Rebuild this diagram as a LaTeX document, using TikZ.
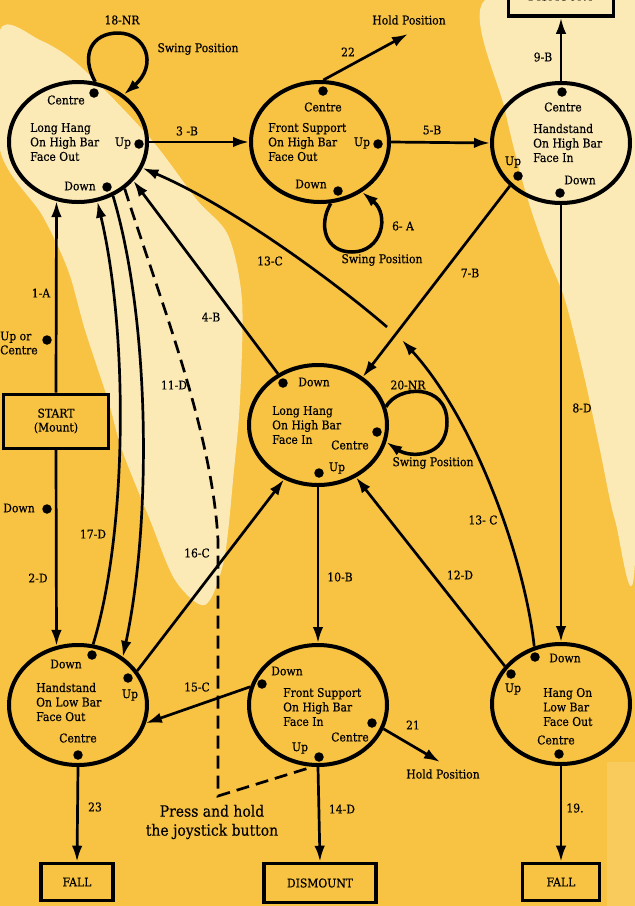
\documentclass[tikz,border=0pt]{standalone}
\usepackage{fontspec}
\setmainfont{DejaVu Serif}[FakeStretch=0.9,FakeBold=0.4]
\usetikzlibrary{shapes.geometric,arrows.meta}
\definecolor{bgy}{HTML}{F8C242}
\definecolor{cream}{HTML}{FBE9B6}
\definecolor{lighty}{HTML}{F9CB5C}
\begin{document}
\begin{tikzpicture}[x=1pt,y=-1pt,
  state/.style={ellipse,draw,line width=4pt,minimum width=138pt,minimum height=120pt,inner sep=0pt},
  body/.style={align=left,font=\fontsize{12}{14.5}\selectfont,anchor=west,inner sep=0pt},
  lab/.style={font=\fontsize{12}{14}\selectfont,inner sep=0pt},
  dot/.style={circle,fill,inner sep=0pt,minimum size=9.5pt},
  arr/.style={line width=2.7pt,-{Latex[length=16pt,width=10.5pt]}},
  loopst/.style={line width=3.5pt,-{Latex[length=16pt,width=10.5pt]}},
  ln/.style={line width=2.7pt},
  term/.style={draw,line width=3.6pt,font=\fontsize{12}{14}\selectfont,inner sep=0pt,align=center},
]
\useasboundingbox (0,0) rectangle (635,906);
\clip (0,0) rectangle (635,906);
\fill[bgy] (0,0) rectangle (635,906);
% cream texture patches
\fill[cream] plot[smooth cycle] coordinates {(0,30) (40,40) (80,66) (150,138) (197,200) (228,235) (242,300) (240,400) (234,470) (224,560) (205,605) (175,580) (150,520) (122,450) (108,400) (85,330) (68,270) (42,215) (0,150)};
\fill[cream] plot[smooth cycle] coordinates {(485,0) (635,0) (635,560) (615,520) (600,450) (585,380) (565,300) (545,250) (525,190) (505,110)};
\fill[lighty] (607,762) rectangle (635,906);

% states
\node[state] (lho) at (78,142) {};
\node[state] (fso) at (320,142) {};
\node[state] (hhi) at (561,143) {};
\node[state] (lhi) at (318,425) {};
\node[state] (hlo) at (78,705) {};
\node[state] (fsi) at (318,705) {};
\node[state] (hlt) at (561,704) {};

\node[body] (lhoT) at (30,142) {Long Hang\\On High Bar\\Face Out};
\node[body] (fsoT) at (268,142) {Front Support\\On High Bar\\Face Out};
\node[body] (hhiT) at (533,143) {Handstand\\On High Bar\\Face In};
\node[body] (lhiT) at (272,425) {Long Hang\\On High Bar\\Face In};
\node[body] (hloT) at (36,702) {Handstand\\On Low Bar\\Face Out};
\node[body] (fsiT) at (283,707) {Front Support\\On High Bar\\Face In};
\node[body] (hltT) at (543,707) {Hang On\\Low Bar\\Face Out};

% dots and their labels
\node[dot] (d1) at (94,93) {};   \node[lab] (l1) at (66,100) {Centre};
\node[dot] (d2) at (139,144) {}; \node[lab] (l2) at (123,143) {Up};
\node[dot] (d3) at (107,187) {}; \node[lab] (l3) at (80,186) {Down};
\node[dot] (d4) at (323,91) {};  \node[lab] (l4) at (323,107) {Centre};
\node[dot] (d5) at (378,144) {}; \node[lab] (l5) at (362,143) {Up};
\node[dot] (d6) at (338,191) {}; \node[lab] (l6) at (311,184) {Down};
\node[dot] (d7) at (562,92) {};  \node[lab] (l7) at (563,107) {Centre};
\node[dot] (d8) at (518,176) {}; \node[lab] (l8) at (513,162) {Up};
\node[dot] (d9) at (560,193) {}; \node[lab] (l9) at (580,180) {Down};
\node[dot] (d10) at (283,383) {}; \node[lab] (l10) at (314,382) {Down};
\node[dot] (d11) at (377,432) {}; \node[lab] (l11) at (350,445) {Centre};
\node[dot] (d12) at (319,473) {}; \node[lab] (l12) at (337,468) {Up};
\node[dot] (d13) at (92,655) {};  \node[lab] (l13) at (66,664) {Down};
\node[dot] (d14) at (128,678) {}; \node[lab] (l14) at (130,695) {Up};
\node[dot] (d15) at (78,755) {};  \node[lab] (l15) at (78,738) {Centre};
\node[dot] (d16) at (262,684) {}; \node[lab] (l16) at (287,671) {Down};
\node[dot] (d17) at (372,723) {}; \node[lab] (l17) at (350,737) {Centre};
\node[dot] (d18) at (319,757) {}; \node[lab] (l18) at (300,748) {Up};
\node[dot] (d19) at (535,657) {}; \node[lab] (l19) at (565,658) {Down};
\node[dot] (d20) at (511,674) {}; \node[lab] (l20) at (513,689) {Up};
\node[dot] (d21) at (559,754) {}; \node[lab] (l21) at (556,740) {Centre};
\node[dot] (d22) at (47,340) {};  \node[lab,anchor=west,align=left] (l22) at (0,343) {Up or\\Centre};
\node[dot] (d23) at (47,509) {};  \node[lab] (l23) at (19,508) {Down};

% terminals
\node[term,line width=3pt,minimum width=105pt,minimum height=54pt] (start) at (56,421) {START\\(Mount)};
\node[term,minimum width=72pt,minimum height=37pt] (fall1) at (77,882) {FALL};
\node[term,minimum width=112pt,minimum height=39pt] (dism) at (320,883) {DISMOUNT};
\node[term,minimum width=77pt,minimum height=37pt] (fall2) at (561,882) {FALL};
\node[term,minimum width=105pt,minimum height=40pt] (dismT) at (561,-4) {DISMOUNT};

\coordinate (hold1) at (408,34);
\coordinate (hold2) at (440,762);
\coordinate (c13a) at (387,327);
\coordinate (c13b) at (402,340);
\coordinate (corner) at (218,796);

% connectors
\draw[arr] (start.north) -- (lho.-110);
\draw[arr] (start.south) -- (hlo.110);
\draw[arr] (hlo.76) .. controls (128,530) and (128,330) .. (lho.-72);
\draw[arr] (lho.-57) .. controls (150,320) and (152,520) .. (hlo.47);
\draw[ln,dash pattern=on 13pt off 7pt] (lho.-45) .. controls (160,300) and (212,430) .. (218,540) -- (corner) -- (fsi.-95);
\draw[arr] (lho.east) -- (fso.west);
\draw[arr] (fso.east) -- (hhi.west);
\draw[arr] (fso.87) -- (hold1);
\draw[arr] (hhi.north) -- (dismT.south);
\draw[arr] (hhi.-140) -- (lhi.47);
\draw[arr] (hhi.south) -- (hlt.north);
\draw[arr] (lhi.128) -- (lho.-35);
\draw[arr] (c13a) .. controls (335,282) and (230,205) .. (lho.-22);
\draw[arr] (hlt.115) .. controls (525,560) and (475,420) .. (c13b);
\draw[arr] (hlt.146) -- (lhi.-54);
\draw[arr] (hlo.30) -- (lhi.-122);
\draw[arr] (fsi.165) -- (hlo.-15);
\draw[arr] (lhi.south) -- (fsi.north);
\draw[arr] (fsi.-20) -- (hold2);
\draw[arr] (fsi.south) -- (dism.north);
\draw[arr] (hlt.south) -- (fall2.north);
\draw[arr] (hlo.south) -- (fall1.north);

% self loops
\draw[loopst] (lho.74) .. controls (80,55) and (92,33) .. (118,33) .. controls (146,33) and (158,65) .. (lho.46);
\draw[loopst] (fso.-80) .. controls (318,225) and (325,252) .. (352,252) .. controls (382,252) and (390,215) .. (fso.-50);
\draw[loopst] (lhi.15) .. controls (398,385) and (447,383) .. (447,422) .. controls (447,458) and (410,458) .. (lhi.-14);

% connector labels
\node[lab] (t1) at (122,20) {18-NR};
\node[lab] (t2) at (198,49) {Swing Position};
\node[lab] (t3) at (187,131) {3 -B};
\node[lab] (t4) at (348,52) {22};
\node[lab] (t5) at (409,20) {Hold Position};
\node[lab] (t6) at (543,57) {9-B};
\node[lab] (t7) at (432,130) {5-B};
\node[lab] (t8) at (403,226) {6- A};
\node[lab] (t9) at (382,260) {Swing Position};
\node[lab] (t10) at (270,261) {13-C};
\node[lab] (t11) at (470,273) {7-B};
\node[lab] (t12) at (41,293) {1-A};
\node[lab] (t13) at (211,317) {4-B};
\node[lab] (t14) at (174,385) {11-D};
\node[lab] (t15) at (408,385) {20-NR};
\node[lab] (t16) at (433,463) {Swing Position};
\node[lab] (t17) at (582,408) {8-D};
\node[lab] (t18) at (483,520) {13- C};
\node[lab] (t19) at (93,534) {17-D};
\node[lab] (t20) at (38,578) {2-D};
\node[lab] (t21) at (197,553) {16-C};
\node[lab] (t22) at (340,577) {10-B};
\node[lab] (t23) at (460,575) {12-D};
\node[lab] (t24) at (197,687) {15-C};
\node[lab] (t25) at (413,725) {21};
\node[lab] (t26) at (443,774) {Hold Position};
\node[lab] (t27) at (95,807) {23};
\node[lab] (t28) at (342,809) {14-D};
\node[lab] (t29) at (575,808) {19.};
\node[lab,align=center,font=\fontsize{15.5}{19}\selectfont] (t30) at (212,822) {Press and hold\\the joystick button};
\end{tikzpicture}
\end{document}
